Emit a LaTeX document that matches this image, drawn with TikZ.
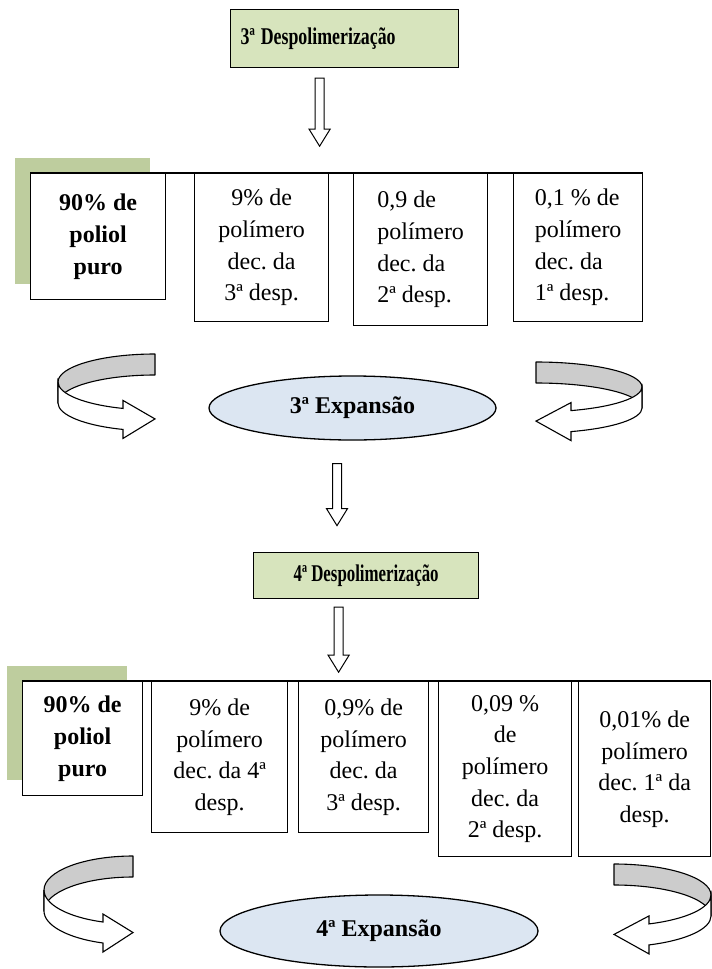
\documentclass[tikz,border=0pt]{standalone}
\usepackage{fontspec}
\setmainfont{Liberation Serif}
\usepackage{graphicx}
\usetikzlibrary{positioning}
\usetikzlibrary{shapes.geometric}
\usetikzlibrary{shadows}
\usetikzlibrary{calc}
\definecolor{titlegreen}{RGB}{215,228,189}
\definecolor{shadegreen}{RGB}{190,205,158}
\definecolor{expblue}{RGB}{220,230,242}
\definecolor{ribbongray}{RGB}{204,204,204}
\frenchspacing
\newcommand{\boxfont}{\fontsize{24}{31.7}\selectfont}
\tikzset{titlebox/.style = {draw, line width=1.2pt, fill=titlegreen, inner sep=0pt,
                            anchor=north west, font=\boxfont\bfseries},
         cell/.style = {draw, line width=1.3pt, fill=white, inner sep=0pt,
                        anchor=north west, align=center},
         firstcell/.style = {cell, font=\boxfont\bfseries,
                             drop shadow={shadow xshift=-16pt, shadow yshift=16pt,
                                          fill=shadegreen, opacity=1}},
         leftcell/.style = {cell, align=left},
         expansion/.style = {ellipse, draw, line width=1.3pt, fill=expblue,
                             inner sep=0pt, font=\boxfont\bfseries},
         hollow/.style = {draw, line width=1pt, fill=white, line join=miter},
         ribbonback/.style = {draw, line width=1.1pt, fill=ribbongray, line join=round},
         ribbonfront/.style = {draw, line width=1.1pt, fill=white, line join=miter},
         rowline/.style = {line width=1.3pt}}

% hollow block arrow pointing down, from #1 to #2
\newcommand{\hollowdown}[2]{%
  \path[hollow] (#1) ++(-4.5,0) -- ++(9,0) |- ($(#2)+(4.5,17)$) -- ++(6,0)
    -- (#2) -- ($(#2)+(-10.5,17)$) -- ++(6,0) -- cycle;}

% turning ribbon arrow: #1 options, #2 cx, #3 cy, #4 rx, #5 ry, #6 head length
\newcommand{\ribbonarrow}[6]{%
  \begin{scope}[shift={(#2,-#3)}, #1]
    \pgfmathsetmacro{\ribang}{180+acos(#6/#4)}
    \pgfmathsetmacro{\ribpy}{#5*sin(\ribang)}
    \path[ribbonback] (0,#5) arc[start angle=90, end angle=180, x radius=#4, y radius=#5]
      -- ++(0,-21) arc[start angle=180, end angle=90, x radius=#4, y radius=#5] -- cycle;
    \path[ribbonfront] (-#4,0) arc[start angle=180, end angle=\ribang, x radius=#4, y radius=#5]
      -- (-#6,\ribpy+8) -- (0,\ribpy-10.5) -- (-#6,\ribpy-30) -- (-#6,\ribpy-21)
      arc[start angle=\ribang, end angle=180, x radius=#4, y radius=#5] -- cycle;
  \end{scope}}

\begin{document}
\begin{tikzpicture}[x=1pt, y=1pt, every node/.style={font=\boxfont}]
  \useasboundingbox (0,0) rectangle (712,-969);

  % third cycle
  \node [titlebox, minimum width=228, minimum height=58, text width=208,
         inner xsep=10pt, align=left] (desp3) at (230,-9)
        {\resizebox{155pt}{\height}{3ª Despolimerização}};
  \coordinate (a1s) at ([xshift=-25pt, yshift=-10pt]desp3.south);
  \coordinate [below=68pt of a1s] (a1e);
  \hollowdown{a1s}{a1e}

  \node [firstcell, minimum width=135, minimum height=126] (b1) at (30,-173)
        {90\% de\\poliol\\puro};
  \node [cell, minimum width=134, minimum height=148] (b2) at (194,-173)
        {9\% de\\polímero\\dec. da\\3ª desp.};
  \node [leftcell, minimum width=134, minimum height=152] (b3) at (353,-173)
        {0,9 de\\polímero\\dec. da\\2ª desp.};
  \node [leftcell, minimum width=129, minimum height=148] (b4) at (513,-173)
        {0,1 \% de\\polímero\\dec. da\\1ª desp.};
  \draw [rowline] (b1.north west) -- (b4.north east);

  \ribbonarrow{}{155}{382}{97}{28}{32}
  \ribbonarrow{xscale=-1}{536}{387}{106}{25}{35}
  \node [expansion, minimum width=287, minimum height=64] (exp3) at (352.5,-408)
        {3ª Expansão};
  \coordinate (a2s) at ([xshift=-15.5pt, yshift=-23pt]exp3.south);
  \coordinate [below=62pt of a2s] (a2e);
  \hollowdown{a2s}{a2e}

  % fourth cycle
  \node [titlebox, minimum width=225, minimum height=46] (desp4) at (253,-552)
        {\resizebox{145pt}{\height}{4ª Despolimerização}};
  \coordinate (a3s) at ([xshift=-27.5pt, yshift=-8pt]desp4.south);
  \coordinate [below=65pt of a3s] (a3e);
  \hollowdown{a3s}{a3e}

  \node [firstcell, minimum width=120, minimum height=114] (c1) at (22,-681)
        {90\% de\\poliol\\puro};
  \node [cell, minimum width=136, minimum height=151] (c2) at (151,-681)
        {9\% de\\polímero\\dec. da 4ª\\desp.};
  \node [cell, minimum width=130, minimum height=151] (c3) at (298,-681)
        {0,9\% de\\polímero\\dec. da\\3ª desp.};
  \node [cell, minimum width=133, minimum height=175] (c4) at (438,-681)
        {0,09 \%\\de\\polímero\\dec. da\\2ª desp.};
  \node [cell, minimum width=132, minimum height=175] (c5) at (578,-681)
        {0,01\% de\\polímero\\dec. 1ª da\\desp.};
  \draw [rowline] (c1.north west) -- (c5.north east);

  \ribbonarrow{}{133}{890}{89}{34}{30}
  \ribbonarrow{xscale=-1}{614}{895}{97}{31}{35}
  \node [expansion, minimum width=318, minimum height=72] (exp4) at (379,-931)
        {4ª Expansão};
\end{tikzpicture}
\end{document}
